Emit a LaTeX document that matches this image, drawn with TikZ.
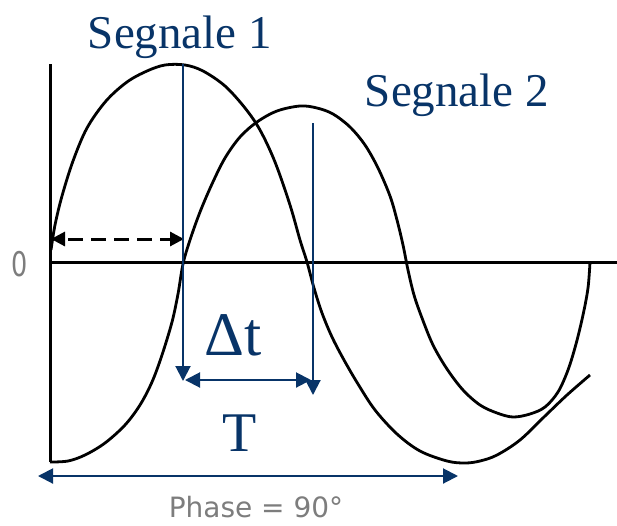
\documentclass[tikz,border=0pt]{standalone}
\usepackage{fontspec}
\setmainfont{Liberation Serif}
\newfontfamily\pixfont{DejaVu Sans}
\usetikzlibrary{arrows.meta}
\definecolor{navy}{RGB}{8,52,104}
\definecolor{axisgray}{RGB}{125,125,125}
\tikzset{
  bhead/.tip={Triangle[length=15pt,width=15pt]},
  khead/.tip={Triangle[length=14pt,width=14pt]}}
\begin{document}
\begin{tikzpicture}[x=1pt,y=-1pt,
  curve/.style={line width=2.8pt, line join=round},
  axisline/.style={line width=3pt},
  bline/.style={navy, line width=2pt},
  lab/.style={navy, anchor=base, inner sep=0pt},
  graylab/.style={axisgray, anchor=base, inner sep=0pt}]
\useasboundingbox (0,0) rectangle (617,525);

% axes
\coordinate (ytop) at (50,64);
\coordinate (yorig) at (50,462);
\coordinate (xleft) at (50,262);
\coordinate (xright) at (617,262);
\draw[axisline] (ytop) -- (yorig);
\draw[axisline] (xleft) -- (xright);

% Segnale 1
\draw[curve] plot[smooth, tension=0.55] coordinates {
(51,250) (55,225) (62,196) (73,161) (87,128) (106,101) (127,82) (147,71) (165,65)
(185,65) (203,71) (225,86) (245,108) (260,130) (275,162) (290,205) (300,240) (307,262)
(314,288) (322,313) (332,337) (344,360) (358,384) (375,410) (397,434) (420,451)
(447,461) (465,463) (480,461) (497,455) (520,440) (545,416) (567,395) (590,375)};

% Segnale 2
\draw[curve] plot[smooth, tension=0.55] coordinates {
(50,462) (68,461) (85,455) (105,443) (125,425) (140,405) (152,382) (162,355)
(172,322) (178,294) (183,264) (190,240) (200,212) (212,184) (225,158) (240,137)
(257,122) (277,111) (300,106) (317,108) (333,114) (350,127) (365,145) (378,168)
(390,196) (397,220) (403,245) (408,270) (414,295) (422,318) (433,345) (447,369)
(463,390) (480,405) (497,413) (513,417) (530,414) (545,407) (558,392) (568,370)
(576,344) (583,315) (588,288) (590,262)};

% dashed black arrow
\coordinate (dl) at (51,239);
\coordinate (dr) at (184,239);
\draw[line width=3pt, dash pattern=on 15pt off 8pt, dash phase=-4pt, {khead}-{khead}] (dl) -- (dr);

% blue arrows
\coordinate (p1top) at (183,64);
\coordinate (p1bot) at (183,381);
\draw[bline, -{bhead}] (p1top) -- (p1bot);
\coordinate (p2top) at (313,123);
\coordinate (p2bot) at (313,395);
\draw[bline, -{bhead}] (p2top) -- (p2bot);
\coordinate (dtl) at (185,380);
\coordinate (dtr) at (311,380);
\draw[bline, {bhead}-{bhead}] (dtl) -- (dtr);
\coordinate (tl) at (38,476);
\coordinate (tr) at (458,476);
\draw[bline, {bhead}-{bhead}] (tl) -- (tr);

% labels
\node[lab, font=\fontsize{47}{50}\selectfont] (s1) at (180,48) {Segnale 1};
\node[lab, font=\fontsize{47}{50}\selectfont] (s2) at (457,106) {Segnale 2};
\node[lab, font=\fontsize{62}{64}\selectfont] (dt) at (233,355) {Δt};
\node[lab, font=\fontsize{56}{58}\selectfont] (T) at (240,451) {T};
\node[graylab, font=\pixfont\fontsize{28}{30}\selectfont] (ph) at (256,517) {Phase = 90°};
\node[graylab, font=\pixfont\fontsize{34}{36}\selectfont, xscale=0.75] (zero) at (20,276) {0};
\end{tikzpicture}
\end{document}
